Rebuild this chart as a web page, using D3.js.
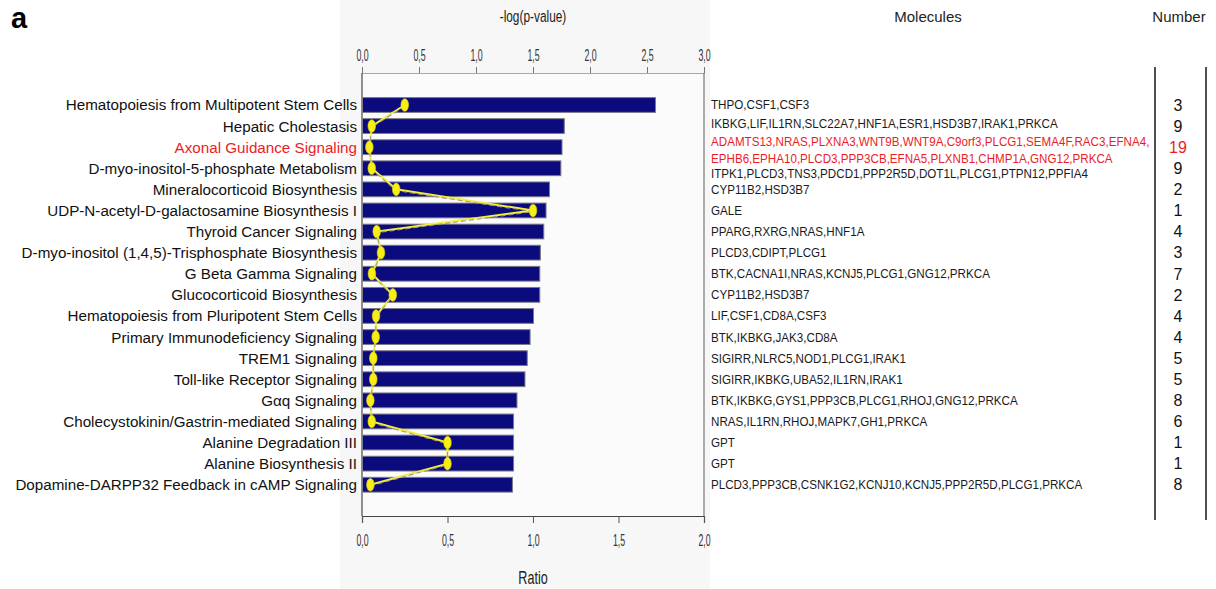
<!DOCTYPE html>
<html>
<head>
<meta charset="utf-8">
<script src="https://cdn.jsdelivr.net/npm/d3@7"></script>
<style>
  html, body { margin: 0; padding: 0; background: #ffffff; }
  svg { display: block; font-family: "Liberation Sans", Arial, sans-serif; }
</style>
</head>
<body>
<svg id="chart" width="1216" height="589"></svg>
<script>
// Canonical pathways, ranked by significance
const pathways = [
  "Hematopoiesis from Multipotent Stem Cells",
  "Hepatic Cholestasis",
  "Axonal Guidance Signaling",
  "D-myo-inositol-5-phosphate Metabolism",
  "Mineralocorticoid Biosynthesis",
  "UDP-N-acetyl-D-galactosamine Biosynthesis I",
  "Thyroid Cancer Signaling",
  "D-myo-inositol (1,4,5)-Trisphosphate Biosynthesis",
  "G Beta Gamma Signaling",
  "Glucocorticoid Biosynthesis",
  "Hematopoiesis from Pluripotent Stem Cells",
  "Primary Immunodeficiency Signaling",
  "TREM1 Signaling",
  "Toll-like Receptor Signaling",
  "G\u03b1q Signaling",
  "Cholecystokinin/Gastrin-mediated Signaling",
  "Alanine Degradation III",
  "Alanine Biosynthesis II",
  "Dopamine-DARPP32 Feedback in cAMP Signaling"
];

// -log(p-value) per pathway (bars, top axis)
const negLogP = [2.57, 1.77, 1.75, 1.74, 1.64, 1.61, 1.59, 1.56, 1.555, 1.555,
                 1.50, 1.47, 1.445, 1.425, 1.355, 1.325, 1.325, 1.325, 1.315];

// Ratio of matched molecules to pathway size (yellow line, bottom axis)
const ratio = [0.25, 0.057, 0.043, 0.057, 0.20, 1.00, 0.086, 0.111, 0.058, 0.18,
               0.082, 0.08, 0.066, 0.066, 0.049, 0.057, 0.50, 0.50, 0.049];

// Matched molecules (one entry per printed line)
const molecules = [
  ["THPO,CSF1,CSF3"],
  ["IKBKG,LIF,IL1RN,SLC22A7,HNF1A,ESR1,HSD3B7,IRAK1,PRKCA"],
  ["ADAMTS13,NRAS,PLXNA3,WNT9B,WNT9A,C9orf3,PLCG1,SEMA4F,RAC3,EFNA4,",
   "EPHB6,EPHA10,PLCD3,PPP3CB,EFNA5,PLXNB1,CHMP1A,GNG12,PRKCA"],
  ["ITPK1,PLCD3,TNS3,PDCD1,PPP2R5D,DOT1L,PLCG1,PTPN12,PPFIA4"],
  ["CYP11B2,HSD3B7"],
  ["GALE"],
  ["PPARG,RXRG,NRAS,HNF1A"],
  ["PLCD3,CDIPT,PLCG1"],
  ["BTK,CACNA1I,NRAS,KCNJ5,PLCG1,GNG12,PRKCA"],
  ["CYP11B2,HSD3B7"],
  ["LIF,CSF1,CD8A,CSF3"],
  ["BTK,IKBKG,JAK3,CD8A"],
  ["SIGIRR,NLRC5,NOD1,PLCG1,IRAK1"],
  ["SIGIRR,IKBKG,UBA52,IL1RN,IRAK1"],
  ["BTK,IKBKG,GYS1,PPP3CB,PLCG1,RHOJ,GNG12,PRKCA"],
  ["NRAS,IL1RN,RHOJ,MAPK7,GH1,PRKCA"],
  ["GPT"],
  ["GPT"],
  ["PLCD3,PPP3CB,CSNK1G2,KCNJ10,KCNJ5,PPP2R5D,PLCG1,PRKCA"]
];

// Number of matched molecules
const counts = [3, 9, 19, 9, 2, 1, 4, 3, 7, 2, 4, 4, 5, 5, 8, 6, 1, 1, 8];

// Highlighted pathway
const highlighted = ["Axonal Guidance Signaling"];

// Axis ticks
const pTicks = [0, 0.5, 1.0, 1.5, 2.0, 2.5, 3.0];
const ratioTicks = [0, 0.5, 1.0, 1.5, 2.0];

const RED = "#ec1c24";
const svg = d3.select("#chart");

const plotL = 362, plotR = 704, plotT = 73, plotB = 516;

const x = d3.scaleLinear().domain([0, 3]).range([plotL, plotR]);
const xr = d3.scaleLinear().domain([0, 2]).range([plotL, plotR]);
const y = d3.scaleBand().domain(pathways).range([90.2, 499.5])
  .paddingInner(0.3).paddingOuter(0.35);
const yc = d => y(d) + y.bandwidth() / 2;

const commaFmt = v => d3.format(".1f")(v).replace(".", ",");
const isHi = name => highlighted.includes(name);

// Light panel behind the plot
svg.append("rect").attr("x", 340).attr("y", 0).attr("width", 370).attr("height", 589)
  .attr("fill", "#f7f7f7");
svg.append("rect").attr("x", plotL).attr("y", plotT).attr("width", plotR - plotL)
  .attr("height", plotB - plotT).attr("fill", "#fbfbfb");

// Panel letter
svg.append("text").attr("x", 11).attr("y", 28).attr("font-size", 29)
  .attr("font-weight", "bold").attr("fill", "#000").text("a");

// Top axis: -log(p-value)
const topAxis = svg.append("g").attr("transform", `translate(0,${plotT})`)
  .call(d3.axisTop(x).tickValues(pTicks).tickFormat(commaFmt).tickSize(6).tickPadding(6));
topAxis.select(".domain").attr("stroke", "#a8a8a8");
topAxis.selectAll(".tick line").attr("stroke", "#777");
topAxis.selectAll(".tick text").attr("font-size", 16).attr("fill", "#333")
  .attr("transform", "scale(0.55,1)");

svg.append("text").attr("x", 533).attr("y", 22).attr("text-anchor", "middle")
  .attr("font-size", 16.5).attr("fill", "#222")
  .attr("transform", "translate(533,0) scale(0.72,1) translate(-533,0)")
  .text("-log(p-value)");

// Bottom axis: Ratio
const botAxis = svg.append("g").attr("transform", `translate(0,${plotB})`)
  .call(d3.axisBottom(xr).tickValues(ratioTicks).tickFormat(commaFmt).tickSize(7).tickPadding(12));
botAxis.select(".domain").attr("stroke", "#444").attr("stroke-width", 1.2);
botAxis.selectAll(".tick line").attr("stroke", "#555");
botAxis.selectAll(".tick text").attr("font-size", 16).attr("fill", "#333")
  .attr("transform", "scale(0.55,1)");

svg.append("text").attr("x", 533).attr("y", 584).attr("text-anchor", "middle")
  .attr("font-size", 18).attr("fill", "#222")
  .attr("transform", "translate(533,0) scale(0.7,1) translate(-533,0)")
  .text("Ratio");

// Side frame lines
svg.append("line").attr("x1", plotL).attr("x2", plotL).attr("y1", plotT).attr("y2", plotB)
  .attr("stroke", "#555").attr("stroke-width", 1.3);
svg.append("line").attr("x1", plotR).attr("x2", plotR).attr("y1", plotT).attr("y2", plotB)
  .attr("stroke", "#777").attr("stroke-width", 1.2);

// Bars
svg.append("g").selectAll("rect").data(pathways).join("rect")
  .attr("x", x(0) + 0.5)
  .attr("y", d => y(d))
  .attr("width", (d, i) => x(negLogP[i]) - x(0))
  .attr("height", y.bandwidth())
  .attr("fill", "#0b0b7e")
  .attr("stroke", "#7a7a8a")
  .attr("stroke-width", 1);

// Ratio line
const pts = pathways.map((d, i) => [xr(ratio[i]), yc(d)]);
const line = d3.line();
svg.append("path").attr("d", line(pts)).attr("fill", "none")
  .attr("stroke", "#f4ee3a").attr("stroke-width", 2);
svg.append("path").attr("d", line(pts.map(p => [p[0], p[1] + 1.2]))).attr("fill", "none")
  .attr("stroke", "#a09e70").attr("stroke-width", 1.1).attr("stroke-dasharray", "5,3");

// Ratio markers
svg.append("g").selectAll("ellipse").data(pts).join("ellipse")
  .attr("cx", p => p[0]).attr("cy", p => p[1])
  .attr("rx", 3.8).attr("ry", 6.3)
  .attr("fill", "#f7ee14").attr("stroke", "#d8cf10").attr("stroke-width", 0.6);

// Pathway labels
svg.append("g").selectAll("text").data(pathways).join("text")
  .attr("x", 357).attr("y", d => yc(d)).attr("dy", "0.36em")
  .attr("text-anchor", "end").attr("font-size", 15.2)
  .attr("fill", d => isHi(d) ? RED : "#111")
  .text(d => d);

// Column headers
svg.append("text").attr("x", 928).attr("y", 22).attr("text-anchor", "middle")
  .attr("font-size", 15).attr("fill", "#222").text("Molecules");
svg.append("text").attr("x", 1179).attr("y", 22).attr("text-anchor", "middle")
  .attr("font-size", 15).attr("fill", "#222").text("Number");

// Molecule lists; multi-line entries push their neighbours apart
const lineGap = 16.6;
const molG = svg.append("g").attr("transform", "translate(711,0) scale(0.93,1)");
pathways.forEach((name, i) => {
  const lines = molecules[i];
  let cy = yc(name);
  if (lines.length > 1) cy += 3;
  else if (i + 1 < pathways.length && molecules[i + 1].length > 1) cy -= 3;
  else if (i > 0 && molecules[i - 1].length > 1) cy += 5;
  const top = cy - (lines.length - 1) * lineGap / 2;
  lines.forEach((t, k) => {
    molG.append("text").attr("x", 0).attr("y", top + k * lineGap).attr("dy", "0.36em")
      .attr("font-size", 12.5).attr("fill", isHi(name) ? RED : "#1a1a1a").text(t);
  });
});

// Counts
svg.append("g").selectAll("text").data(pathways).join("text")
  .attr("x", 1178).attr("y", d => yc(d)).attr("dy", "0.36em")
  .attr("text-anchor", "middle").attr("font-size", 16)
  .attr("fill", d => isHi(d) ? RED : "#111")
  .text((d, i) => counts[i]);

// Column rules around the counts
[1155, 1206].forEach(xx => {
  svg.append("line").attr("x1", xx).attr("x2", xx).attr("y1", 67).attr("y2", 520)
    .attr("stroke", "#222").attr("stroke-width", 1.6);
});
</script>
</body>
</html>
